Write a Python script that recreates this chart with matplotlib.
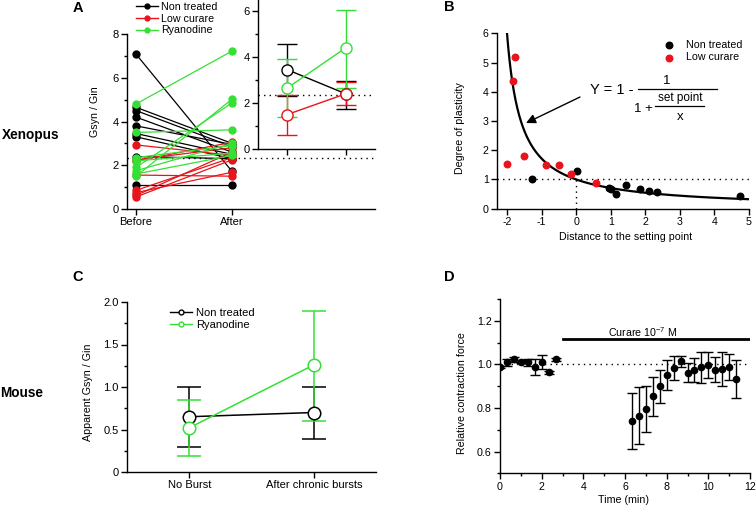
import numpy as np
import matplotlib
matplotlib.use("Agg")
import matplotlib.pyplot as plt
from matplotlib.ticker import MultipleLocator

plt.rcParams['font.family'] = ['Liberation Sans', 'DejaVu Sans']
plt.rcParams['mathtext.fontset'] = 'custom'
plt.rcParams['mathtext.rm'] = 'Liberation Sans'
plt.rcParams['mathtext.it'] = 'Liberation Sans:italic'
plt.rcParams['font.size'] = 7.7

RED = '#e8141c'
GREEN = '#35e035'

# ---- panel A: individual cells (Xenopus)
a_black_before = [7.08, 4.65, 4.5, 4.2, 3.8, 3.45, 3.3, 2.4, 1.1]
a_black_after = [1.72, 3.0, 2.85, 2.6, 2.95, 2.5, 2.3, 2.3, 1.1]
a_red_before = [2.93, 2.25, 2.2, 1.55, 0.85, 0.75, 0.62, 0.55]
a_red_after = [2.45, 2.8, 3.05, 1.5, 2.35, 1.68, 2.6, 2.25]
a_green_before = [4.8, 3.5, 2.2, 1.9, 1.75, 1.5, 1.6, 2.35]
a_green_after = [7.22, 3.62, 2.55, 4.85, 3.0, 5.02, 2.45, 2.9]
a_conditions = ["Before", "After"]
a_ref = 2.35

# panel A inset: means with error bars
ins_black = [3.45, 2.4]
ins_black_lo = [2.3, 1.75]
ins_black_hi = [4.55, 2.95]
ins_red = [1.5, 2.4]
ins_red_lo = [0.6, 1.9]
ins_red_hi = [2.35, 2.9]
ins_green = [2.65, 4.4]
ins_green_lo = [1.4, 2.65]
ins_green_hi = [3.9, 6.05]

# ---- panel B
b_black_x = [-1.27, 0.01, 0.95, 1.0, 1.14, 1.45, 1.86, 2.1, 2.34, 4.73]
b_black_y = [1.02, 1.28, 0.72, 0.67, 0.51, 0.80, 0.67, 0.59, 0.56, 0.42]
b_red_x = [-2.0, -1.82, -1.77, -1.52, -0.86, -0.51, -0.16, 0.58]
b_red_y = [1.52, 4.38, 5.18, 1.80, 1.48, 1.51, 1.19, 0.88]
set_point = 2.4

# ---- panel C (Mouse)
c_conditions = ["No Burst", "After chronic bursts"]
c_black = [0.65, 0.70]
c_black_lo = [0.29, 0.39]
c_black_hi = [1.0, 1.0]
c_green = [0.52, 1.26]
c_green_lo = [0.19, 0.60]
c_green_hi = [0.85, 1.90]

# ---- panel D
d_time = [0.0, 0.33, 0.67, 1.0, 1.33, 1.67, 2.0, 2.33, 2.67,
          6.33, 6.67, 7.0, 7.33, 7.67, 8.0, 8.33, 8.67, 9.0, 9.33,
          9.67, 10.0, 10.33, 10.67, 11.0, 11.33]
d_force = [0.988, 1.009, 1.024, 1.013, 1.009, 0.988, 1.011, 0.963, 1.024,
           0.739, 0.765, 0.795, 0.853, 0.899, 0.951, 0.985, 1.014, 0.962, 0.973,
           0.986, 0.997, 0.976, 0.979, 0.986, 0.933]
d_err = [0.006, 0.016, 0.012, 0.006, 0.016, 0.035, 0.033, 0.008, 0.007,
         0.128, 0.13, 0.106, 0.089, 0.076, 0.068, 0.055, 0.026, 0.045, 0.054,
         0.072, 0.06, 0.058, 0.08, 0.06, 0.086]
curare_start, curare_end = 3.0, 12.0

W, H = 756, 507
fig = plt.figure(figsize=(W / 100, H / 100), dpi=100)


def box(l, t, r, b):
    return [l / W, 1 - b / H, (r - l) / W, (b - t) / H]


def style(ax, size=7.7):
    for s in ['top', 'right']:
        ax.spines[s].set_visible(False)
    for s in ['left', 'bottom']:
        ax.spines[s].set_linewidth(1.0)
    ax.tick_params(direction='out', length=4, width=1.0, pad=2, labelsize=size)
    ax.tick_params(which='minor', direction='out', length=2.5, width=1.0)
    ax.patch.set_alpha(0)


# ---------------- A
axA = fig.add_axes(box(127, 34, 375, 209))
style(axA, 8)
for bef, aft in zip(a_black_before, a_black_after):
    axA.plot([0, 1], [bef, aft], color='black', lw=0.9, marker='o', ms=5, zorder=3)
for bef, aft in zip(a_red_before, a_red_after):
    axA.plot([0, 1], [bef, aft], color=RED, lw=0.9, marker='o', ms=5, zorder=3)
for bef, aft in zip(a_green_before, a_green_after):
    axA.plot([0, 1], [bef, aft], color=GREEN, lw=0.9, marker='o', ms=5, zorder=3)
axA.axhline(a_ref, color='black', ls=(0, (1, 3)), lw=1.0, zorder=1)
axA.set_xlim(-0.094, 2.49)
axA.set_ylim(0, 8)
axA.set_xticks([0, 1])
axA.set_xticklabels(a_conditions)
axA.set_yticks([0, 2, 4, 6, 8])
axA.yaxis.set_minor_locator(MultipleLocator(1))

handles = [
    plt.Line2D([], [], color='black', marker='o', ms=3.5, lw=1),
    plt.Line2D([], [], color=RED, marker='o', ms=3.5, lw=1),
    plt.Line2D([], [], color=GREEN, marker='o', ms=3.5, lw=1),
]
fig.legend(handles, ["Non treated", "Low curare", "Ryanodine"],
           loc='upper left', bbox_to_anchor=(134 / W, 1 - 0 / H), frameon=False,
           fontsize=7.7, handlelength=2.0, handletextpad=0.3, labelspacing=0.15,
           borderaxespad=0, borderpad=0.2)

axI = fig.add_axes(box(258, 0, 375, 149))
style(axI, 8)
axI.axhline(a_ref, color='black', ls=(0, (1, 3)), lw=1.0, zorder=1)
for mean, lo, hi, col in [(ins_black, ins_black_lo, ins_black_hi, 'black'),
                          (ins_red, ins_red_lo, ins_red_hi, RED),
                          (ins_green, ins_green_lo, ins_green_hi, GREEN)]:
    yerr = [np.array(mean) - np.array(lo), np.array(hi) - np.array(mean)]
    axI.errorbar([0, 1], mean, yerr=yerr, color=col, lw=1.0, capsize=7.5,
                 capthick=1.0, marker='o', ms=8, mfc='white', mec=col, mew=1.0)
axI.set_xlim(-0.5, 1.5)
axI.set_ylim(0, 6.48)
axI.set_xticks([0, 1])
axI.set_xticklabels([])
axI.set_yticks([0, 2, 4, 6])
axI.yaxis.set_minor_locator(MultipleLocator(1))

# ---------------- B
axB = fig.add_axes(box(497, 33.3, 749, 208.7))
style(axB)
xs = np.linspace(-set_point + set_point / 6, 5, 400)
axB.plot(xs, set_point / (xs + set_point), color='black', lw=1.6, zorder=2)
axB.plot([-2.29, 5], [1, 1], color='black', ls=(0, (1, 3)), lw=1.0, zorder=1)
axB.plot([0, 0], [0, 1], color='black', ls=(0, (1, 3)), lw=1.0, zorder=1)
axB.scatter(b_black_x, b_black_y, s=22, color='black', zorder=3, label="Non treated")
axB.scatter(b_red_x, b_red_y, s=22, color=RED, zorder=3, label="Low curare")
axB.set_xlim(-2.29, 5)
axB.set_ylim(0, 6)
axB.set_xticks(range(-2, 6))
axB.set_xticklabels([str(v) for v in range(-2, 6)])
axB.set_yticks(range(0, 7))
axB.legend(loc='upper right', bbox_to_anchor=(1.0, 1.0), frameon=False, fontsize=7.7,
           handletextpad=0.6, labelspacing=0.25, borderaxespad=0.2, markerscale=1.0)
axB.text(1.03, 4.06, "Y = 1 -", fontsize=10.5, ha='center', va='center')
axB.text(2.62, 4.38, "1", fontsize=9.5, ha='center', va='center')
axB.plot([1.79, 4.07], [4.1, 4.1], color='black', lw=0.9)
axB.text(1.95, 3.42, "1 +", fontsize=9.5, ha='center', va='center')
axB.text(3.0, 3.8, "set point", fontsize=8.5, ha='center', va='center')
axB.plot([2.28, 3.69], [3.52, 3.52], color='black', lw=0.9)
axB.text(3.0, 3.12, "x", fontsize=9.5, ha='center', va='center')
axB.annotate("", xy=(-1.45, 2.93), xytext=(0.11, 3.82),
             arrowprops=dict(arrowstyle='-|>', color='black', lw=1.0,
                             mutation_scale=14, shrinkA=0, shrinkB=0))

# ---------------- C
axC = fig.add_axes(box(127, 302, 376, 472))
style(axC, 8)
for mean, lo, hi, col in [(c_black, c_black_lo, c_black_hi, 'black'),
                          (c_green, c_green_lo, c_green_hi, GREEN)]:
    yerr = [np.array(mean) - np.array(lo), np.array(hi) - np.array(mean)]
    axC.errorbar([0, 1], mean, yerr=yerr, color=col, lw=1.1, capsize=8.5,
                 capthick=1.1, marker='o', ms=9, mfc='white', mec=col, mew=1.1)
axC.set_xlim(-0.5, 1.5)
axC.set_ylim(0, 2.0)
axC.set_xticks([0, 1])
axC.set_xticklabels(c_conditions)
axC.set_yticks([0, 0.5, 1.0, 1.5, 2.0])
axC.set_yticklabels(["0", "0.5", "1.0", "1.5", "2.0"])
axC.yaxis.set_minor_locator(MultipleLocator(0.25))
hC = [plt.Line2D([], [], color='black', marker='o', ms=3.5, mfc='white', lw=1),
      plt.Line2D([], [], color=GREEN, marker='o', ms=3.5, mfc='white', lw=1)]
fig.legend(hC, ["Non treated", "Ryanodine"], loc='upper left',
           bbox_to_anchor=(168 / W, 1 - 306 / H), frameon=False, fontsize=8,
           handlelength=2.0, handletextpad=0.3, labelspacing=0.15,
           borderaxespad=0, borderpad=0.2)

# ---------------- D
axD = fig.add_axes(box(500, 299, 750, 473.3))
style(axD)
axD.axhline(1.0, color='black', ls=(0, (1, 3)), lw=1.0, zorder=1)
axD.errorbar(d_time, d_force, yerr=d_err, fmt='o', color='black', ms=4.5,
             capsize=3.5, capthick=1.0, lw=1.0, zorder=3)
axD.plot([curare_start, curare_end], [1.116, 1.116], color='black', lw=2.0)
axD.text(6.86, 1.147, "Curare 10$^{-7}$ M", fontsize=7.7, ha='center', va='center')
axD.set_xlim(0, 12)
axD.set_ylim(0.5, 1.3)
axD.set_xticks(range(0, 13, 2))
axD.set_yticks([0.6, 0.8, 1.0, 1.2])
axD.set_yticklabels(["0.6", "0.8", "1.0", "1.2"])
axD.xaxis.set_minor_locator(MultipleLocator(1))
axD.yaxis.set_minor_locator(MultipleLocator(0.1))

# ---------------- labels
fig.text(95 / W, 1 - 112 / H, "Gsyn / Gin", rotation=90, ha='center', va='center')
fig.text(460 / W, 1 - 128 / H, "Degree of plasticity", rotation=90, ha='center', va='center')
fig.text(88 / W, 1 - 392 / H, "Apparent Gsyn / Gin", rotation=90, ha='center', va='center')
fig.text(462 / W, 1 - 393 / H, "Relative contraction force", rotation=90, ha='center', va='center')
fig.text(626 / W, 1 - 237 / H, "Distance to the setting point", ha='center', va='center')
fig.text(624 / W, 1 - 500 / H, "Time (min)", ha='center', va='center')

for letter, x, y in [("A", 78, 8), ("B", 449, 7), ("C", 78, 277), ("D", 449, 277)]:
    fig.text(x / W, 1 - y / H, letter, fontsize=10.5, fontweight='bold', ha='center', va='center')
fig.text(31 / W, 1 - 135 / H, "Xenopus", fontsize=9.8, fontweight='bold', ha='center', va='center')
fig.text(22 / W, 1 - 393 / H, "Mouse", fontsize=9.8, fontweight='bold', ha='center', va='center')

fig.savefig("out.png", dpi=100)
